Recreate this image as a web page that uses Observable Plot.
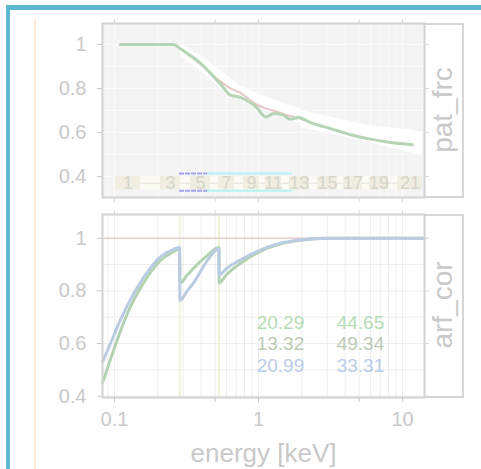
<!DOCTYPE html>
<html><head><meta charset="utf-8">
<script src="https://cdn.jsdelivr.net/npm/d3@7"></script>
<script src="https://cdn.jsdelivr.net/npm/@observablehq/plot@0.6"></script>
<style>
html,body{margin:0;padding:0;background:#fff;}
#wrap{position:relative;width:481px;height:469px;overflow:hidden;font-family:"Liberation Sans",Arial,sans-serif;}
.deco{position:absolute;}
#topPlot{position:absolute;left:0;top:0;}
#botPlot{position:absolute;left:0;top:205px;}
.strip{position:absolute;left:423px;width:41px;border:2px solid #d6d6d6;box-sizing:border-box;background:#fff;}
.striptxt{position:absolute;left:443px;color:#c9c9c9;font-size:28px;white-space:nowrap;transform:translate(-50%,-50%) rotate(-90deg);}
</style></head>
<body>
<div id="wrap">
  <div class="deco" style="left:6px;top:5px;width:475px;height:5px;background:#5cb9d0;border-top-left-radius:3px;"></div>
  <div class="deco" style="left:6px;top:5px;width:4px;height:464px;background:#5cb9d0;"></div>
  <div class="deco" style="left:32px;top:13px;width:449px;height:1px;background:#ececec;"></div>
  <div class="deco" style="left:34px;top:19px;width:2px;height:450px;background:#fdeada;"></div>
  <div class="strip" style="top:23px;height:175px;"></div>
  <div class="strip" style="top:214px;height:184px;"></div>
  <div id="topPlot"></div>
  <div id="botPlot"></div>
  <div class="striptxt" id="s1" style="top:110px;"></div>
  <div class="striptxt" id="s2" style="top:305px;"></div>
</div>
<script>
// ---------- data ----------
const stripLabels = ["pat_frc", "arf_cor"];
const xLabel = "energy [keV]";
const energyTicks = [0.1, 0.5, 1, 5, 10];
const energyGrid = [0.09, 0.1, 0.2, 0.3, 0.4, 0.5, 0.6, 0.7, 0.8, 0.9, 1, 2, 3, 4, 5, 6, 7, 8, 9, 10];
const yTicks = [0.4, 0.6, 0.8, 1];
const yGrid = [0.4, 0.5, 0.6, 0.7, 0.8, 0.9, 1.0];

// top panel: pat_frc
const patE     = [0.11, 0.257, 0.287, 0.396, 0.545, 0.639, 0.75, 0.88, 0.984, 1.066, 1.118, 1.271, 1.468, 1.668, 1.896, 2.297, 3.16, 4.36, 5.99, 8.25, 11.7];
const patObs   = [1, 1, 0.98, 0.914, 0.82, 0.77, 0.76, 0.736, 0.71, 0.68, 0.67, 0.686, 0.68, 0.66, 0.668, 0.645, 0.618, 0.59, 0.57, 0.555, 0.545];
const patModel = [1, 1, 0.98, 0.91, 0.832, 0.80, 0.78, 0.745, 0.725, 0.716, 0.71, 0.70, 0.686, 0.675, 0.666, 0.645, 0.618, 0.59, 0.57, 0.555, 0.545];
const bandE  = [0.287, 0.396, 0.545, 0.75, 1.03, 1.668, 1.96, 2.0, 3.16, 5.99, 11.7, 13.8];
const bandHi = [1.0, 0.95, 0.88, 0.81, 0.77, 0.72, 0.71, 0.70, 0.67, 0.63, 0.61, 0.60];
const bandLo = [0.945, 0.88, 0.80, 0.755, 0.71, 0.655, 0.635, 0.62, 0.595, 0.555, 0.505, 0.50];
const binEdges = [0.1016, 0.1517, 0.2087, 0.2873, 0.3374, 0.4642, 0.5275, 0.681, 0.787, 1.016, 1.118, 1.445, 1.642, 2.26, 2.57, 3.54, 3.89, 5.27, 5.90, 8.0, 9.23, 13.8];
const binNumbers = [1,2,3,4,5,6,7,8,9,10,11,12,13,14,15,16,17,18,19,20,21];
const groupBlue = [0.283, 0.443];
const groupCyan = [0.443, 1.72];

// bottom panel: arf_cor
const arfE     = [0.0826, 0.0938, 0.108, 0.123, 0.159, 0.209, 0.25, 0.283, 0.285, 0.32, 0.354, 0.442, 0.531, 0.533, 0.6, 0.75, 1.03, 1.3, 1.75, 3.01, 14.2];
const arfBlue  = [0.53, 0.60, 0.68, 0.745, 0.85, 0.93, 0.955, 0.965, 0.764, 0.80, 0.83, 0.916, 0.96, 0.86, 0.885, 0.918, 0.955, 0.975, 0.99, 1.0, 1.0];
const arfGreen = [0.45, 0.54, 0.635, 0.714, 0.83, 0.916, 0.945, 0.958, 0.83, 0.86, 0.886, 0.935, 0.965, 0.83, 0.862, 0.905, 0.95, 0.972, 0.988, 1.0, 1.0];
const edgeE = [0.284, 0.532];
const statLeft  = ["20.29", "13.32", "20.99"];
const statRight = ["44.65", "49.34", "33.31"];
const statColors = ["#b5dcb5", "#bccab4", "#b9cce8"];
const statRowY = [0.68, 0.598, 0.516];

// ---------- tables ----------
const pat = patE.map((e, i) => ({e, obs: patObs[i], mod: patModel[i]}));
const band = bandE.map((e, i) => ({e, hi: bandHi[i], lo: bandLo[i]}));
const bins = binNumbers.map((n, i) => ({n, x1: binEdges[i], x2: binEdges[i + 1], xc: Math.sqrt(binEdges[i] * binEdges[i + 1])}));
const oddBins = bins.filter(d => d.n % 2 === 1);
const evenBins = bins.filter(d => d.n % 2 === 0);
const arf = arfE.map((e, i) => ({e, b: arfBlue[i], g: arfGreen[i]}));
const stats = statLeft.map((l, i) => ({l, r: statRight[i], c: statColors[i], y: statRowY[i]}));

const tc = "#c9c9c9";
const font = "Liberation Sans, Arial, sans-serif";

const topPlot = Plot.plot({
  width: 481, height: 205,
  marginLeft: 102, marginRight: 57, marginTop: 23, marginBottom: 8,
  x: {type: "log", domain: [0.0826, 14.2], axis: null},
  y: {domain: [0.305, 1.095], axis: null},
  style: {background: "transparent", fontFamily: font},
  marks: [
    Plot.frame({fill: "#f4f4f4", stroke: null}),
    Plot.gridX(energyGrid, {stroke: "#fbfbfb", strokeOpacity: 1}),
    Plot.gridY(yGrid, {stroke: "#fbfbfb", strokeOpacity: 1}),
    Plot.areaY(band, {x: "e", y1: "lo", y2: "hi", fill: "#ffffff"}),
    Plot.rect(evenBins, {x1: "x1", x2: "x2", y1: 0.34, y2: 0.40, fill: "#fbfbf3"}),
    Plot.ruleY(evenBins, {x1: "x1", x2: "x2", y: 0.37, stroke: "#e2e2da", strokeWidth: 1}),
    Plot.rect(oddBins, {x1: "x1", x2: "x2", y1: 0.34, y2: 0.40, fill: "#efeee0"}),
    Plot.text(oddBins, {x: "xc", y: 0.368, text: d => String(d.n), fill: "#d6d6cc", fontSize: 18}),
    Plot.ruleY([0.414, 0.336], {x1: groupCyan[0], x2: groupCyan[1], stroke: "#b6f3f3", strokeWidth: 2}),
    Plot.ruleY([0.414, 0.336], {x1: groupBlue[0], x2: groupBlue[1], stroke: "#a3a3f0", strokeWidth: 2, strokeDasharray: "5,1"}),
    Plot.line(pat, {x: "e", y: "mod", stroke: "#e6c6c6", strokeWidth: 2, curve: "monotone-x"}),
    Plot.line(pat, {x: "e", y: "obs", stroke: "#b4d6b4", strokeWidth: 3, curve: "monotone-x"}),
    Plot.frame({stroke: "#d2d2d2", strokeWidth: 2}),
    Plot.axisY(yTicks, {anchor: "left", tickSize: 5, tickPadding: 11, fontSize: 20, color: tc, tickFormat: d => String(d), label: null}),
    Plot.axisY(yTicks, {anchor: "right", tickSize: 4, tickFormat: () => "", color: "#d8d8d8", label: null}),
    Plot.axisX(energyTicks, {anchor: "top", tickSize: 5, tickFormat: () => "", color: "#d8d8d8", label: null}),
    Plot.axisX(energyTicks, {anchor: "bottom", tickSize: 5, tickFormat: () => "", color: "#d8d8d8", label: null})
  ]
});
document.getElementById("topPlot").append(topPlot);

const botPlot = Plot.plot({
  width: 481, height: 264,
  marginLeft: 102, marginRight: 57, marginTop: 9, marginBottom: 72,
  x: {type: "log", domain: [0.0826, 14.2], axis: null},
  y: {domain: [0.395, 1.09], axis: null},
  style: {background: "transparent", fontFamily: font},
  marks: [
    Plot.frame({fill: "#ffffff", stroke: null}),
    Plot.gridX(energyGrid, {stroke: "#eeeeee", strokeOpacity: 1}),
    Plot.gridY(yGrid, {stroke: "#eeeeee", strokeOpacity: 1}),
    Plot.ruleX(edgeE, {stroke: "#f0f0dc", strokeWidth: 2}),
    Plot.ruleY([1], {stroke: "#edcccc", strokeWidth: 1.5}),
    Plot.line(arf, {x: "e", y: "g", stroke: "#b3d3b0", strokeWidth: 3, curve: "monotone-x"}),
    Plot.line(arf, {x: "e", y: "b", stroke: "#b9cce3", strokeWidth: 3, curve: "monotone-x"}),
    Plot.text(stats, {x: 1.42, y: "y", text: "l", fill: d => d.c, fontSize: 19}),
    Plot.text(stats, {x: 5.1, y: "y", text: "r", fill: d => d.c, fontSize: 19}),
    Plot.frame({stroke: "#d2d2d2", strokeWidth: 2}),
    Plot.axisY(yTicks, {anchor: "left", tickSize: 5, tickPadding: 11, fontSize: 20, color: tc, tickFormat: d => String(d), label: null}),
    Plot.axisY(yTicks, {anchor: "right", tickSize: 4, tickFormat: () => "", color: "#d8d8d8", label: null}),
    Plot.axisX(energyTicks, {anchor: "top", tickSize: 5, tickFormat: () => "", color: "#d8d8d8", label: null}),
    Plot.axisX(energyTicks, {anchor: "bottom", tickSize: 5, tickPadding: 9, fontSize: 20, color: tc, tickFormat: d => String(d), label: null}),
    Plot.text([xLabel], {frameAnchor: "bottom", lineAnchor: "middle", dy: 56, fontSize: 26, fill: tc})
  ]
});
document.getElementById("botPlot").append(botPlot);

document.getElementById("s1").textContent = stripLabels[0];
document.getElementById("s2").textContent = stripLabels[1];
</script>
</body></html>
